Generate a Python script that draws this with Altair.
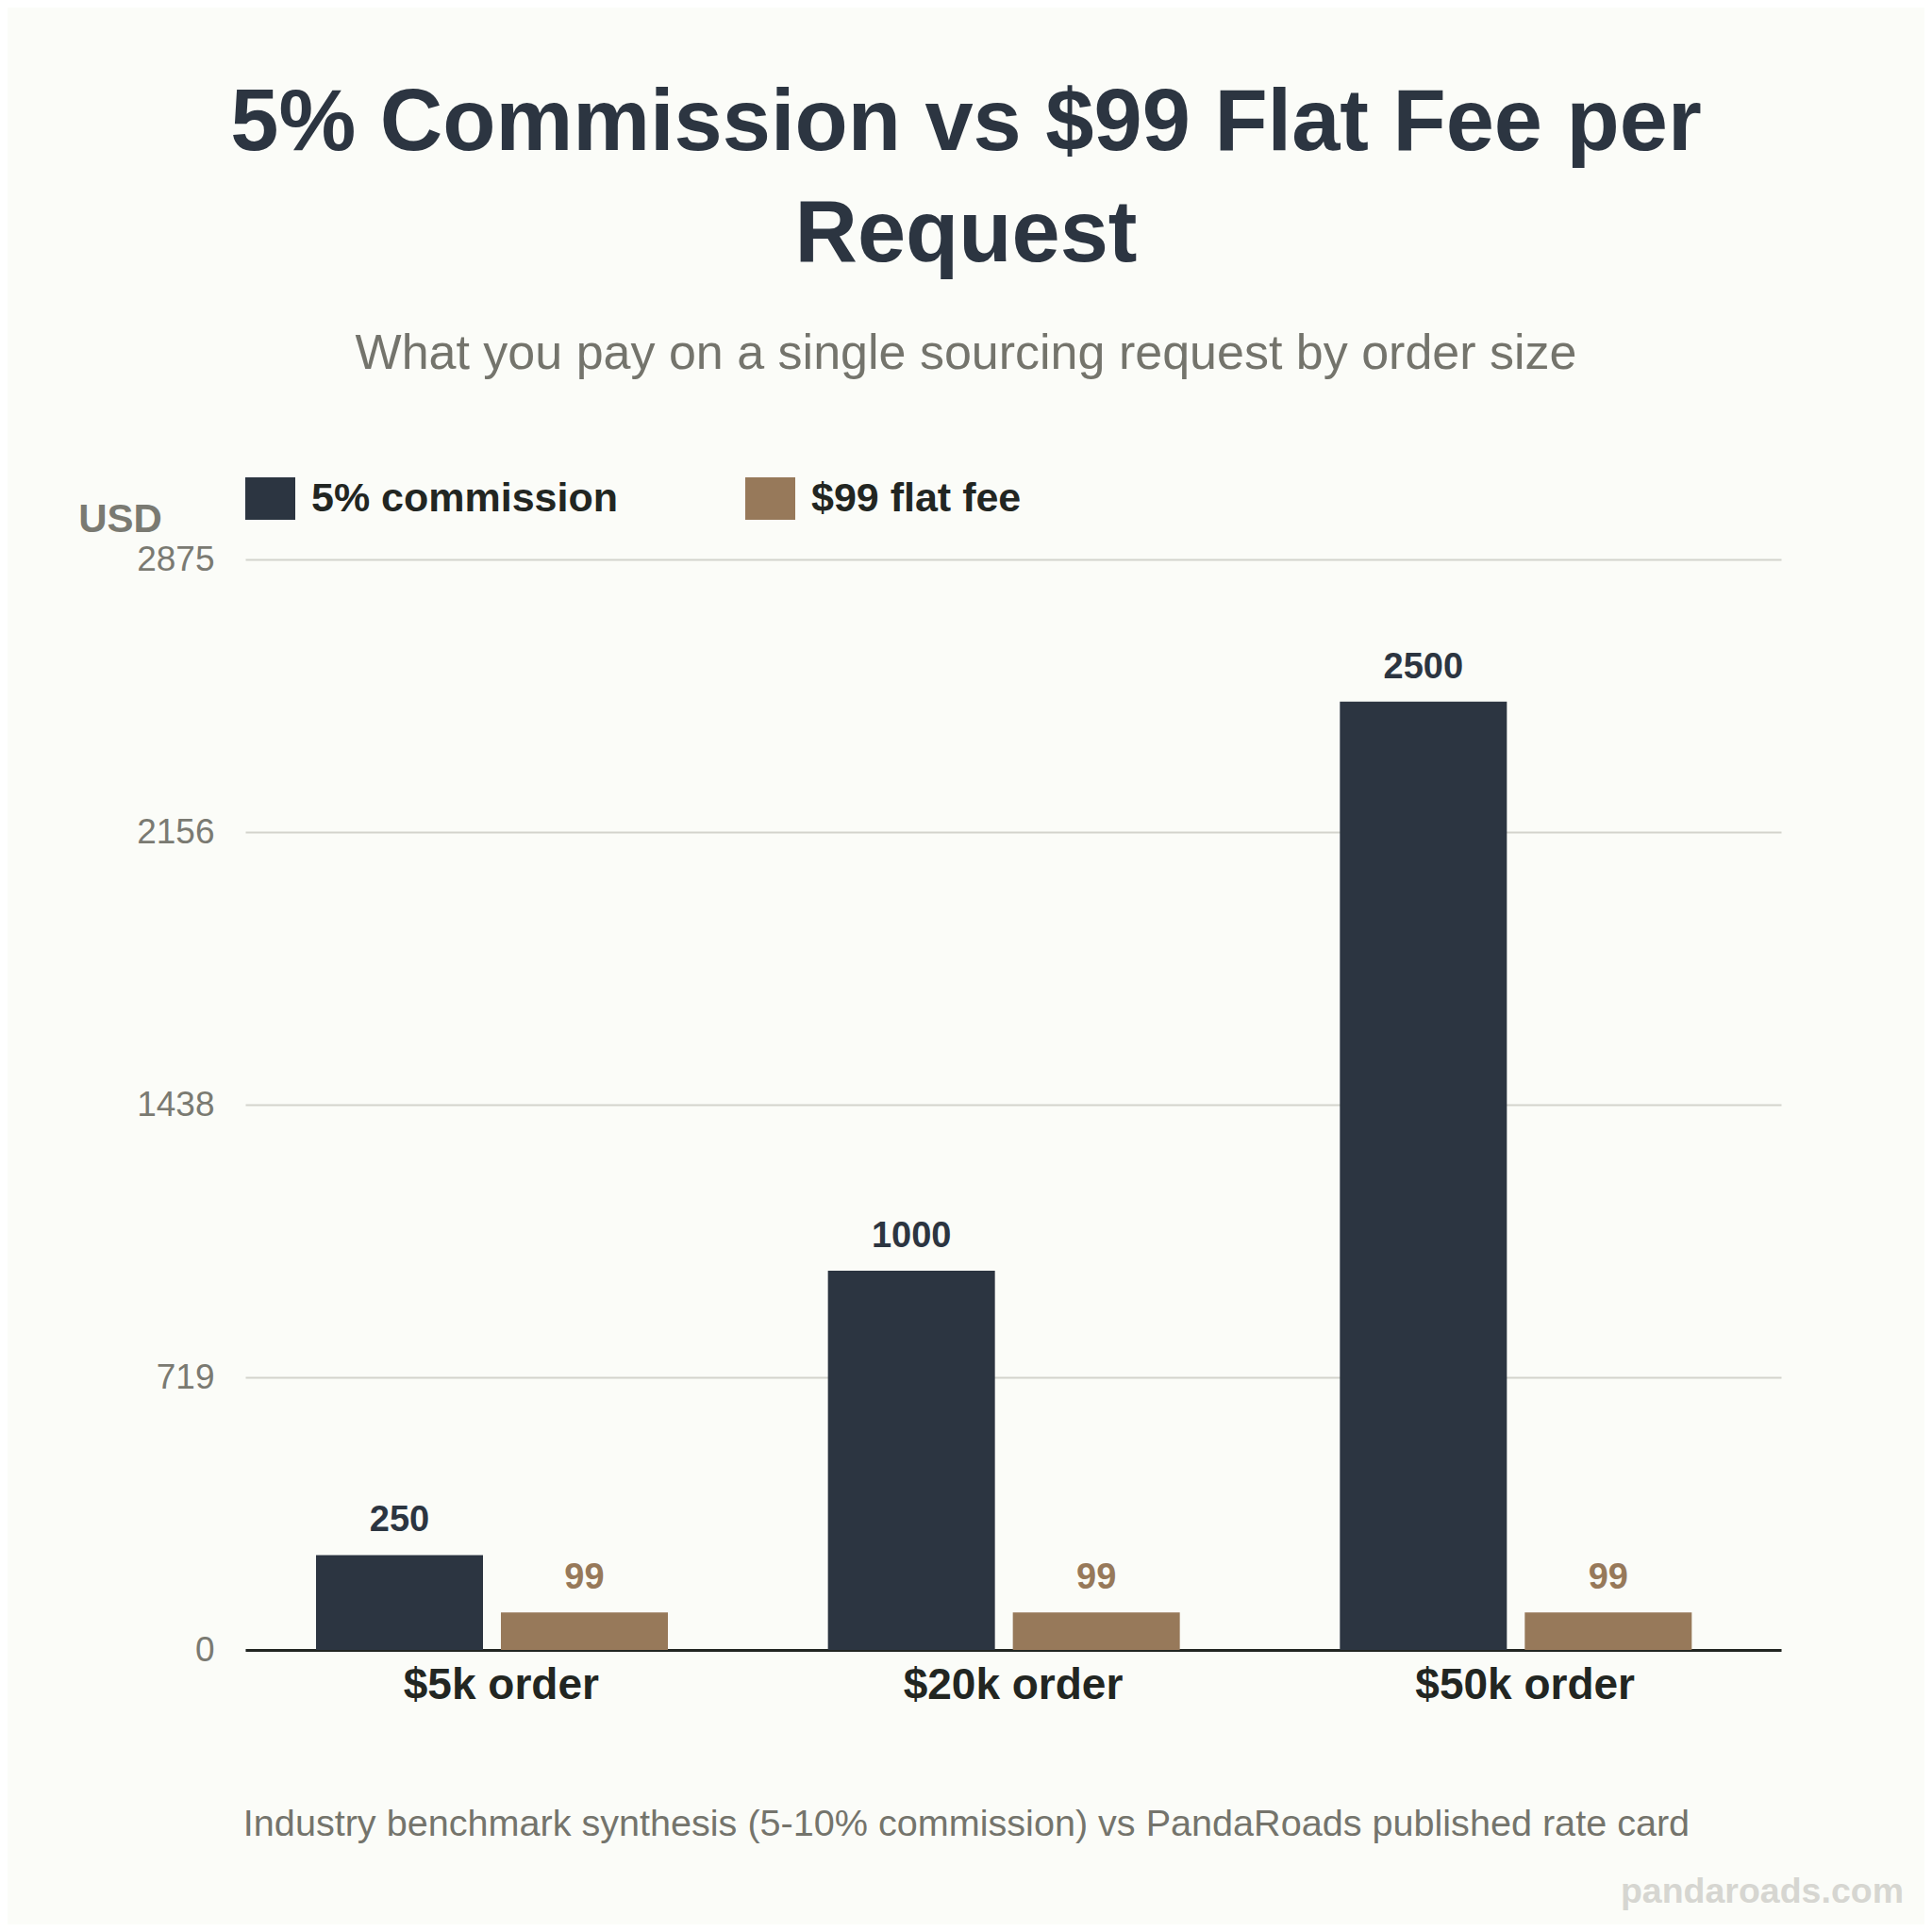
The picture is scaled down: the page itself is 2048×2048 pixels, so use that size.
import altair as alt
import pandas as pd

# ---- data ----
categories = ["$5k order", "$20k order", "$50k order"]
series_names = ["5% commission", "$99 flat fee"]
commission = [250, 1000, 2500]
flat_fee = [99, 99, 99]
y_ticks = [0, 718.75, 1437.5, 2156.25, 2875]
y_max = 2875
colors = ["#2c3541", "#97795a"]

title_lines = ["5% Commission vs $99 Flat Fee per", "Request"]
subtitle = "What you pay on a single sourcing request by order size"
y_title = "USD"
footer = "Industry benchmark synthesis (5-10% commission) vs PandaRoads published rate card"
watermark = ["pandaroads.com"]

rows = []
for c, a, b in zip(categories, commission, flat_fee):
    rows.append({"cat": c, "series": series_names[0], "value": a})
    rows.append({"cat": c, "series": series_names[1], "value": b})
df = pd.DataFrame(rows)

FONT = "Liberation Sans"
W, H = 1628, 1156

x_enc = alt.X(
    "cat:N",
    sort=categories,
    scale=alt.Scale(paddingInner=0, paddingOuter=0),
    axis=alt.Axis(
        title=footer,
        titleX=764,
        titleY=196,
        titleAlign="center",
        titleBaseline="alphabetic",
        titleFontSize=39.6,
        titleFontWeight="normal",
        titleColor="#74746c",
        titleFont=FONT,
        titleLimit=2000,
        labelFont=FONT,
        labelFontSize=46,
        labelFontWeight="bold",
        labelColor="#222622",
        labelPadding=15,
        labelAngle=0,
        labelLimit=600,
        ticks=False,
        domain=True,
        domainColor="#222622",
        domainWidth=3,
        grid=False,
    ),
)
xoff_enc = alt.XOffset(
    "series:N",
    sort=series_names,
    scale=alt.Scale(paddingInner=0.0969, paddingOuter=0.4328, align=0.442),
)
y_enc = alt.Y(
    "value:Q",
    scale=alt.Scale(domain=[0, y_max], nice=False, zero=True),
    axis=alt.Axis(
        title=y_title,
        titleAngle=0,
        titleX=-133,
        titleY=-30,
        titleAlign="center",
        titleBaseline="alphabetic",
        titleFontSize=42,
        titleFontWeight="bold",
        titleColor="#7a7a72",
        titleFont=FONT,
        values=y_ticks,
        format="d",
        labelFont=FONT,
        labelFontSize=37,
        labelColor="#7a7a72",
        labelPadding=33,
        ticks=False,
        domain=False,
        grid=True,
        gridColor="#d3d3cc",
        gridWidth=2,
    ),
)
color_scale = alt.Scale(domain=series_names, range=colors)

bars = alt.Chart(df).mark_bar().encode(
    x=x_enc,
    xOffset=xoff_enc,
    y=y_enc,
    color=alt.Color(
        "series:N",
        scale=color_scale,
        sort=series_names,
        legend=alt.Legend(
            title=None,
            orient="none",
            legendX=0,
            legendY=-91,
            direction="horizontal",
            columns=2,
            padding=0,
            columnPadding=135,
            symbolType="M-1,-0.849L1,-0.849L1,0.849L-1,0.849Z",
            symbolSize=2809,
            symbolStrokeWidth=0,
            symbolOpacity=1,
            labelFont=FONT,
            labelFontSize=43,
            labelFontWeight="bold",
            labelColor="#222622",
            labelOffset=17,
            labelLimit=600,
        ),
    ),
)

labels = alt.Chart(df).mark_text(
    baseline="alphabetic", align="center", dy=-25, font=FONT, fontSize=38, fontWeight="bold"
).encode(
    x=alt.X("cat:N", sort=categories),
    xOffset=alt.XOffset("series:N", sort=series_names),
    y=alt.Y("value:Q"),
    text=alt.Text("value:Q", format="d"),
    color=alt.Color("series:N", scale=color_scale, sort=series_names, legend=None),
)

wm = alt.Chart(pd.DataFrame({"t": watermark})).mark_text(
    align="right", baseline="alphabetic", font=FONT, fontSize=37.5, fontWeight="bold", color="#d6d6d1"
).encode(x=alt.value(1758), y=alt.value(1424), text="t:N")

chart = (
    alt.layer(bars, labels, wm)
    .properties(
        width=W,
        height=H,
        padding={"left": 252, "top": 585, "right": 152, "bottom": 291},
        autosize=alt.AutoSizeParams(type="none"),
        background="#fbfcf8",
        title=alt.TitleParams(
            text=title_lines,
            subtitle=subtitle,
            anchor="middle",
            frame="group",
            dx=-50,
            offset=100,
            font=FONT,
            fontSize=92,
            fontWeight="bold",
            color="#2c3541",
            lineHeight=118,
            subtitleFont=FONT,
            subtitleFontSize=52,
            subtitleColor="#74746c",
            subtitlePadding=54,
        ),
    )
    .configure_view(stroke=None)
)

chart.save("out.html", embed_options={"renderer": "svg", "actions": False})
